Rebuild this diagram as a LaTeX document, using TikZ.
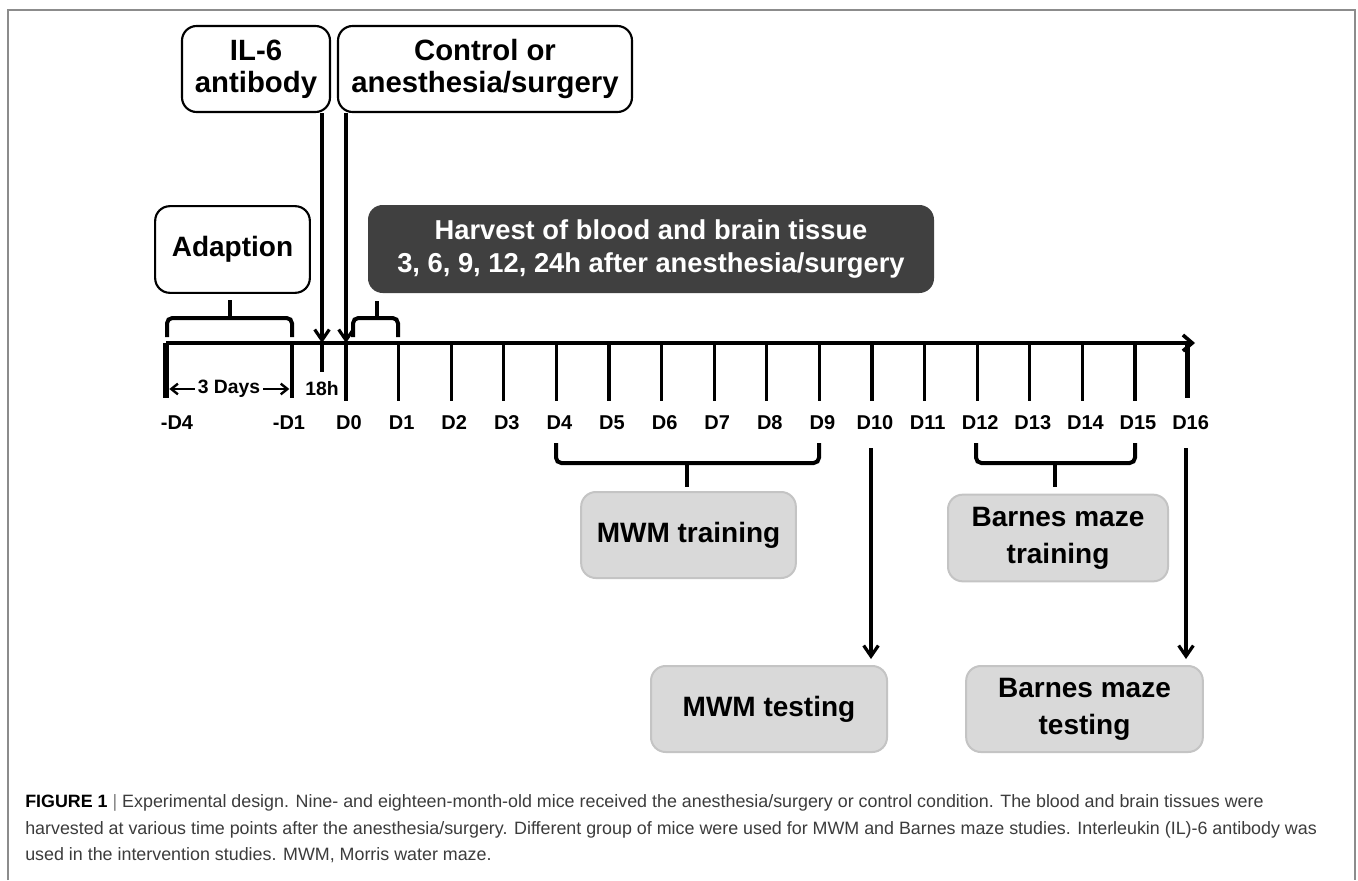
\documentclass[tikz,border=0pt]{standalone}
\usepackage{fontspec}
\setmainfont{Liberation Sans}
\usetikzlibrary{arrows.meta}
\definecolor{darkbox}{HTML}{404040}
\definecolor{lightbox}{HTML}{D9D9D9}
\definecolor{lightedge}{HTML}{C4C4C4}
\definecolor{framegray}{HTML}{8C8C8C}
\definecolor{captext}{HTML}{3C3C3C}

\begin{document}
\begin{tikzpicture}[x=0.75pt,y=-0.75pt,
    tl/.style={line width=2.5pt},
    thicktick/.style={line width=4pt},
    brace/.style={line width=3pt, rounded corners=4pt},
    arr/.style={line width=2.4pt, -{Straight Barb[length=8pt,width=11pt]}},
    smallarr/.style={line width=1.8pt, -{Straight Barb[length=5pt,width=8pt]}},
    topbox/.style={draw, line width=1.6pt, rounded corners=11pt, inner sep=0pt, align=center,
        font=\bfseries\fontsize{22}{24}\selectfont},
    whitebox/.style={draw, line width=1.6pt, rounded corners=11pt, inner sep=0pt, align=center,
        font=\bfseries\fontsize{21}{26}\selectfont},
    darkbox/.style={fill=darkbox, rounded corners=11pt, inner sep=0pt, align=center, text=white,
        font=\bfseries\fontsize{20.5}{25}\selectfont},
    graybox/.style={draw=lightedge, fill=lightbox, line width=1.5pt, rounded corners=11pt, inner sep=0pt,
        align=center, font=\bfseries\fontsize{21}{27.5}\selectfont},
    daylab/.style={inner sep=0pt, font=\bfseries\fontsize{15}{18}\selectfont},
    smalllab/.style={inner sep=0pt, font=\bfseries\fontsize{14.5}{17}\selectfont},
    caption/.style={inner sep=0pt, anchor=base west, text=captext, font=\fontsize{13.4}{16}\selectfont}]

    \fill[white] (0,0) rectangle (1358,864);
    \draw[framegray, line width=1.2pt] (8,880) -- (8,10) -- (1355,10) -- (1355,880);

    \node[topbox, minimum width=111pt, minimum height=64.5pt] (il6) at (256,69) {IL-6\\antibody};
    \node[topbox, minimum width=220.5pt, minimum height=64.5pt] (ctrl) at (485,69) {Control or\\anesthesia/surgery};
    \node[whitebox, minimum width=116pt, minimum height=65pt] (adapt) at (232.5,249.5) {Adaption};
    \node[darkbox, minimum width=424.5pt, minimum height=66pt] (harvest) at (651,249)
        {Harvest of blood and brain tissue\\3, 6, 9, 12, 24h after anesthesia/surgery};

    \coordinate (tm4) at (166,343);
    \coordinate (tm1) at (292,343);
    \coordinate (t18) at (322,343);
    \coordinate (tend) at (1195,343);
    \foreach \i in {0,...,16}
        {\coordinate (t\i) at (346+52.6*\i,343);}

    \draw[line width=2.7pt, -{Straight Barb[length=7pt,width=12pt]}] (tm4) -- (tend);
    \draw[thicktick] (tm4) -- ++(0,55);
    \draw[tl] (tm1) -- ++(0,55);
    \draw[tl] (t18) -- ++(0,29);
    \foreach \i in {0,...,15}
        {\draw[tl] (t\i) -- ++(0,58);}
    \draw[thicktick] (t16) -- ++(0,55);

    \draw[arr] (il6.south -| t18) -- (t18);
    \draw[arr] (ctrl.south -| t0) -- (t0);

    \draw[brace] (167,337) |- (292,318) -- (292,337);
    \draw[brace] (230,318) -- (230,300);
    \draw[brace] (353,337) |- (398,318) -- (398,337);
    \draw[brace] (377,318) -- (377,301);

    \node[smalllab] (days) at (229,389) {3 Days};
    \node[smalllab] (h18) at (322,389) {18h};
    \draw[smallarr] ([xshift=-2pt]days.west) -- ([xshift=2.5pt]tm4 |- days);
    \draw[smallarr] ([xshift=2pt]days.east) -- ([xshift=-2pt]tm1 |- days);

    \node[daylab] (dm4) at (177,423) {-D4};
    \node[daylab] (dm1) at (289,423) {-D1};
    \foreach \i in {0,...,16}
        {\node[daylab] (d\i) at (349+52.6*\i,423) {D\i};}

    \draw[brace] (556,443) |- (819,463) -- (819,443);
    \draw[brace] (687,463) -- (687,487);
    \draw[brace] (976,443) |- (1135,463) -- (1135,443);
    \draw[brace] (1055,463) -- (1055,487);

    \node[graybox, minimum width=161pt, minimum height=64.5pt] (mwmtrain) at (688.5,535) {MWM training};
    \node[graybox, minimum width=165pt, minimum height=65pt] (barntrain) at (1058,538) {Barnes maze\\training};
    \node[graybox, minimum width=177pt, minimum height=64.5pt] (mwmtest) at (769,709) {MWM testing};
    \node[graybox, minimum width=177.5pt, minimum height=64.5pt] (barntest) at (1084.5,709) {Barnes maze\\testing};

    \coordinate (a10) at (871,448);
    \coordinate (a16) at (1186,448);
    \draw[arr, shorten >=4.5pt] (a10) -- (mwmtest.north -| a10);
    \draw[arr, shorten >=4.5pt] (a16) -- (barntest.north -| a16);

    \node[caption] (cap1) at (25,807) {\textcolor{black}{\textbf{FIGURE 1}} \textcolor{gray}{|} Experimental design. Nine- and eighteen-month-old mice received the anesthesia/surgery or control condition. The blood and brain tissues were};
    \node[caption] (cap2) at (25,834) {harvested at various time points after the anesthesia/surgery. Different group of mice were used for MWM and Barnes maze studies. Interleukin (IL)-6 antibody was};
    \node[caption] (cap3) at (25,860) {used in the intervention studies. MWM, Morris water maze.};
\end{tikzpicture}
\end{document}
